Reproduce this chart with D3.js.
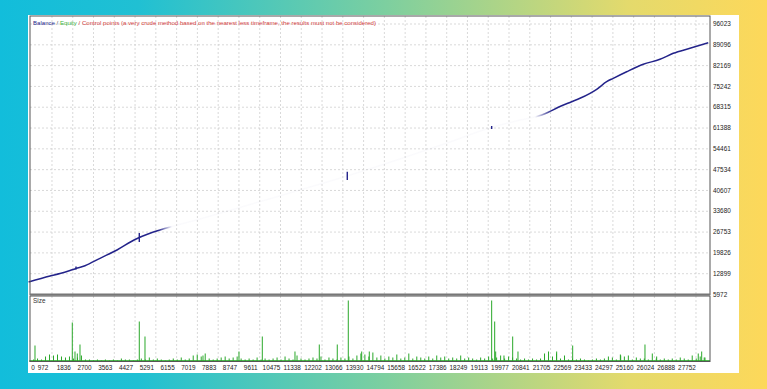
<!DOCTYPE html>
<html>
<head>
<meta charset="utf-8">
<script src="https://cdn.jsdelivr.net/npm/d3@7"></script>
<style>
  html, body { margin: 0; padding: 0; }
  body { width: 767px; height: 389px; overflow: hidden; }
  text { font-family: "Liberation Sans", "DejaVu Sans", sans-serif; }
</style>
</head>
<body>
<svg id="chart" width="767" height="389"></svg>
<script>
// axis tick labels
const priceTicks = [5972, 12899, 19826, 26753, 33680, 40607, 47534, 54461, 61388, 68315, 75242, 82169, 89096, 96023];
const tradeTicks = [0, 972, 1836, 2700, 3563, 4427, 5291, 6155, 7019, 7883, 8747, 9611, 10475, 11338, 12202,
  13066, 13930, 14794, 15658, 16522, 17386, 18249, 19113, 19977, 20841, 21705, 22569, 23433, 24297, 25160,
  26024, 26888, 27752];

// balance curve (trade number, balance)
const balanceTrade = [0, 890, 1306, 1721, 1971, 2345, 2969, 3676, 4425, 5048, 5464,
  7127, 9206, 11285, 13240, 15443, 17522, 19227, 20433,
  21335, 21610, 22026, 22583, 22928, 23622, 24038, 24312, 24869, 25560, 26254, 26807, 27501, 28262];
const balanceValue = [10130, 12131, 12963, 13962, 14627, 15560, 18023, 20786, 24282, 26345, 27444,
  31106, 35933, 40760, 45420, 51080, 56739, 61566, 64064,
  65727, 66627, 68291, 70155, 71287, 74283, 76813, 77944, 80142, 82605, 84271, 86269, 87933, 89797];

// equity dips (trade number, low, high)
const dipTrade = [1971, 4603, 13252, 19256];
const dipLow = [14300, 23449, 44089, 61067];
const dipHigh = [15300, 26445, 46852, 62066];

// size histogram: small trades every 166 trades, plus the big ones
const sizeStep = 166;
const sizeSmall = [
  0.1,0.2,0.3,0.2,0.5,0.7,0.6,0.7,0.5,0.4,
  0.5,0.3,0.4,0.6,0.2,0.2,0.1,0.2,0.1,0.2,
  0.1,0.2,0.1,0.3,0.2,0.2,0.1,0.2,0.3,0.2,
  0.4,0.2,0.3,0.2,0.1,0.2,0.3,0.2,0.4,0.2,
  0.3,0.6,0.7,0.5,0.8,0.3,0.2,0.3,0.4,0.5,
  0.3,0.4,0.5,0.3,0.2,0.3,0.2,0.4,0.2,0.3,
  0.2,0.3,0.4,0.2,0.5,0.3,0.2,0.6,0.3,0.2,
  0.3,0.4,0.3,0.5,0.2,0.4,0.3,0.2,0.4,0.3,
  0.5,0.3,0.6,0.8,0.7,0.5,0.9,0.4,0.6,0.3,
  0.5,0.4,0.7,0.3,0.4,0.8,0.3,0.5,0.4,0.3,
  0.5,0.3,0.6,0.4,0.5,0.3,0.4,0.3,0.6,0.3,
  0.4,0.3,0.2,0.4,0.3,0.5,0.3,0.4,0.6,0.3,
  0.5,0.4,0.3,0.2,0.3,0.2,0.3,0.2,0.3,0.8,
  1.0,0.5,0.8,0.3,0.6,0.2,0.3,0.2,0.3,0.2,
  0.1,0.2,0.3,0.2,0.3,0.5,0.4,0.2,0.7,0.5,
  0.6,0.2,0.4,0.3,0.3,0.2,0.8,0.3,0.2,0.3,
  0.2,0.3,0.2,0.4,0.3,0.2,0.6,0.3,0.5,0.4];
const bigTrade = [266, 1817, 1929, 2025, 2137, 4603, 4840, 7252, 8748, 9718, 11077, 12088, 12836, 13294,
  13851, 14167, 19256, 19381, 19423, 19768, 20130, 20350, 21959, 22625, 24621, 25631, 26117, 27847, 27989, 28126];
const bigSize = [1.6, 3.9, 1.0, 0.8, 1.7, 4.0, 2.5, 0.6, 1.0, 2.5, 1.0, 1.7, 1.7, 6.1,
  1.0, 1.0, 6.1, 4.0, 1.0, 0.6, 2.5, 1.0, 1.0, 1.6, 0.6, 1.7, 0.5, 0.8, 1.0, 0.4];

const svg = d3.select("#chart");
const defs = svg.append("defs");

// page background
const bg = defs.append("linearGradient").attr("id", "bg")
  .attr("x1", "0%").attr("x2", "100%").attr("y1", "0%").attr("y2", "0%");
[["0%", "#12bddb"], ["18%", "#20c0d3"], ["50%", "#7ccfa0"], ["82%", "#e4da6c"], ["100%", "#fdd85a"]]
  .forEach(s => bg.append("stop").attr("offset", s[0]).attr("stop-color", s[1]));

svg.append("rect").attr("width", 767).attr("height", 389).attr("fill", "url(#bg)");
svg.append("rect").attr("x", 28).attr("y", 15).attr("width", 711).attr("height", 358).attr("fill", "#fff");

const plotL = 30, plotR = 710, plotT = 16, mainBottom = 294.5, subTop = 296, subBottom = 361.5;

const x = d3.scaleLinear().domain([0, 28335]).range([28.6, 710]);
const y = d3.scaleLinear().domain([5972, 96023]).range([294.5, 24]);
const ys = d3.scaleLinear().domain([0, 6.4]).range([subBottom, subBottom - 64]);

// grid
const grid = svg.append("g").attr("stroke", "#cfcfcf").attr("stroke-dasharray", "2,2").attr("stroke-width", 0.8);
grid.selectAll(".h").data(priceTicks.slice(1)).join("line").attr("class", "h")
  .attr("x1", plotL).attr("x2", plotR).attr("y1", d => y(d)).attr("y2", d => y(d));
grid.selectAll(".v").data(tradeTicks.slice(1)).join("line").attr("class", "v")
  .attr("x1", d => x(d)).attr("x2", d => x(d)).attr("y1", plotT).attr("y2", mainBottom);
grid.selectAll(".vs").data(tradeTicks.slice(1)).join("line").attr("class", "vs")
  .attr("x1", d => x(d)).attr("x2", d => x(d)).attr("y1", subTop).attr("y2", subBottom);

// fade over the middle of the curve (watermark area)
const fade = defs.append("linearGradient").attr("id", "fade").attr("gradientUnits", "userSpaceOnUse")
  .attr("x1", plotL).attr("x2", plotR).attr("y1", 0).attr("y2", 0);
[[0, 1], [128, 1], [142, 0.02], [505, 0.02], [522, 1], [680, 1]]
  .forEach(s => fade.append("stop").attr("offset", s[0] / 680).attr("stop-color", "#23238a").attr("stop-opacity", s[1]));

const balance = balanceTrade.map((t, i) => [t, balanceValue[i]]);
const line = d3.line().x(d => x(d[0])).y(d => y(d[1])).curve(d3.curveMonotoneX);
svg.append("path").datum(balance)
  .attr("fill", "none").attr("stroke", "url(#fade)").attr("stroke-width", 1.5).attr("d", line);

svg.selectAll(".dip").data(dipTrade).join("line").attr("class", "dip")
  .attr("x1", d => x(d)).attr("x2", d => x(d))
  .attr("y1", (d, i) => y(dipLow[i])).attr("y2", (d, i) => y(dipHigh[i]))
  .attr("stroke", "#23238a").attr("stroke-width", 1.4);

// size histogram
const sizes = sizeSmall.map((v, i) => [i * sizeStep + 40, v]).concat(bigTrade.map((t, i) => [t, bigSize[i]]));
svg.append("g").selectAll("line").data(sizes).join("line")
  .attr("x1", d => x(d[0])).attr("x2", d => x(d[0]))
  .attr("y1", subBottom).attr("y2", d => ys(d[1]))
  .attr("stroke", "#2aa82a").attr("stroke-width", 1);
svg.append("line").attr("x1", plotL).attr("x2", plotR).attr("y1", subBottom - 0.8).attr("y2", subBottom - 0.8)
  .attr("stroke", "#2aa82a").attr("stroke-width", 1);

// frames
svg.append("rect").attr("x", plotL).attr("y", plotT).attr("width", plotR - plotL).attr("height", mainBottom - plotT)
  .attr("fill", "none").attr("stroke", "#555").attr("stroke-width", 1);
svg.append("line").attr("x1", plotL).attr("x2", plotR).attr("y1", mainBottom).attr("y2", mainBottom)
  .attr("stroke", "#777").attr("stroke-width", 2);
svg.append("rect").attr("x", plotL).attr("y", subTop).attr("width", plotR - plotL).attr("height", subBottom - subTop)
  .attr("fill", "none").attr("stroke", "#555").attr("stroke-width", 1);

// labels
const fs = 6.4;
svg.append("g").selectAll("text").data(priceTicks).join("text")
  .attr("x", 713).attr("y", d => y(d) + 2.2).attr("font-size", fs).attr("fill", "#222").text(d => d);
svg.append("g").selectAll("text").data(tradeTicks).join("text")
  .attr("x", d => Math.max(x(d) - 9, 33)).attr("y", 370).attr("text-anchor", "middle")
  .attr("font-size", fs).attr("fill", "#222").text(d => d);

svg.append("text").attr("x", 33).attr("y", 303).attr("font-size", fs).attr("fill", "#333").text("Size");

const legend = svg.append("text").attr("x", 33).attr("y", 25).attr("font-size", 6.2)
  .attr("textLength", 343).attr("lengthAdjust", "spacingAndGlyphs");
legend.append("tspan").attr("fill", "#1d1d8a").text("Balance");
legend.append("tspan").attr("fill", "#555").text(" / ");
legend.append("tspan").attr("fill", "#3cb43c").text("Equity");
legend.append("tspan").attr("fill", "#d23c3c")
  .text(" / Control points (a very crude method based on the nearest less timeframe, the results must not be considered)");
</script>
</body>
</html>
